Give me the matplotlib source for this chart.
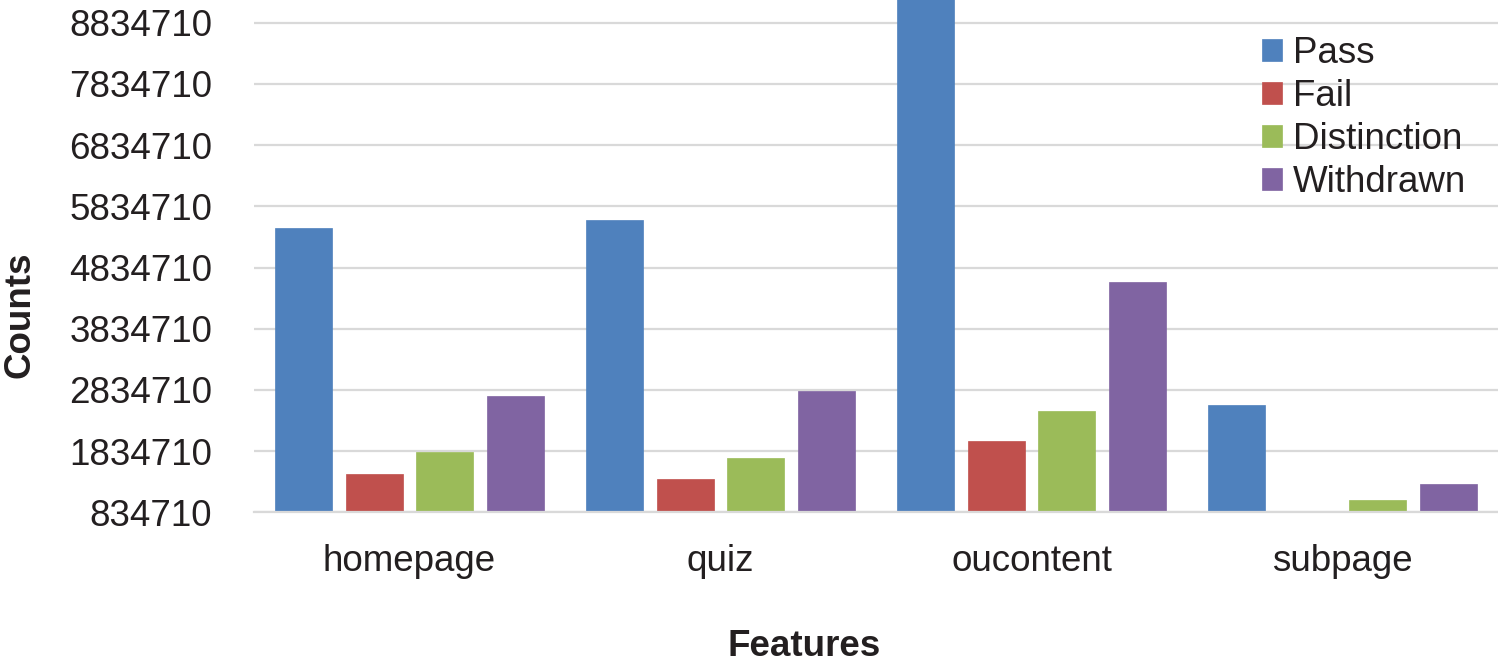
import matplotlib
matplotlib.use("Agg")
import matplotlib.pyplot as plt
import numpy as np

categories = ["homepage", "quiz", "oucontent", "subpage"]
series_names = ["Pass", "Fail", "Distinction", "Withdrawn"]
pass_vals = [5485000, 5611000, 9400000, 2583000]
fail_vals = [1456000, 1374000, 2000000, 700000]
distinction_vals = [1820000, 1717000, 2495000, 1041000]
withdrawn_vals = [2740000, 2812000, 4603000, 1292000]
ytick_vals = [834710 + k * 1000000 for k in range(9)]
colors = ["#4F81BD", "#C0504D", "#9BBB59", "#8064A2"]

plt.rcParams['font.family'] = ['Liberation Sans', 'DejaVu Sans']

fig = plt.figure(figsize=(14.98, 6.68), dpi=100)
ax = fig.add_axes([254 / 1498, 1 - 512.3 / 668, 1 - 254 / 1498, 512.3 / 668])

x = np.arange(len(categories))
pitch = 0.2273
width = 0.1833
all_vals = [pass_vals, fail_vals, distinction_vals, withdrawn_vals]
for i, (name, vals, c) in enumerate(zip(series_names, all_vals, colors)):
    ax.bar(x + (i - 1.5) * pitch, vals, width=width, color=c, label=name,
           zorder=3, edgecolor=c, linewidth=0.5)

ax.set_xlim(-0.5, 3.5)
ax.set_ylim(834710, 834710 + 8.371e6)
ax.set_yticks(ytick_vals)
ax.set_yticklabels([str(v) for v in ytick_vals], fontsize=26.5)
ax.set_xticks(x)
ax.set_xticklabels(categories, fontsize=26.5)
ax.tick_params(axis='y', length=0, pad=30)
ax.tick_params(axis='x', length=0, pad=23)
ax.grid(axis='y', color='#D9D9D9', linewidth=1.6, zorder=0)
ax.set_axisbelow(True)
for s in ['top', 'right', 'left']:
    ax.spines[s].set_visible(False)
ax.spines['bottom'].set_color('#D9D9D9')
ax.spines['bottom'].set_linewidth(1.6)
ax.spines['bottom'].set_zorder(4)

fig.text(804 / 1498, 1 - 647 / 668, "Features", fontsize=26.5, fontweight='bold',
         ha='center', va='center', color='#231F20')
fig.text(20 / 1498, 1 - 315 / 668, "Counts", fontsize=26.5, fontweight='bold',
         ha='center', va='center', rotation=90, color='#231F20')

leg = ax.legend(loc='upper left', bbox_to_anchor=(1262 / 1498, 1 - 36 / 668),
                bbox_transform=fig.transFigure, frameon=False, fontsize=26.5,
                handlelength=0.54, handleheight=0.54, handletextpad=0.3,
                labelspacing=0.22, borderpad=0, borderaxespad=0)
for t in leg.get_texts():
    t.set_color('#231F20')
for t in ax.get_xticklabels() + ax.get_yticklabels():
    t.set_color('#231F20')

fig.savefig("out.png", dpi=100)
